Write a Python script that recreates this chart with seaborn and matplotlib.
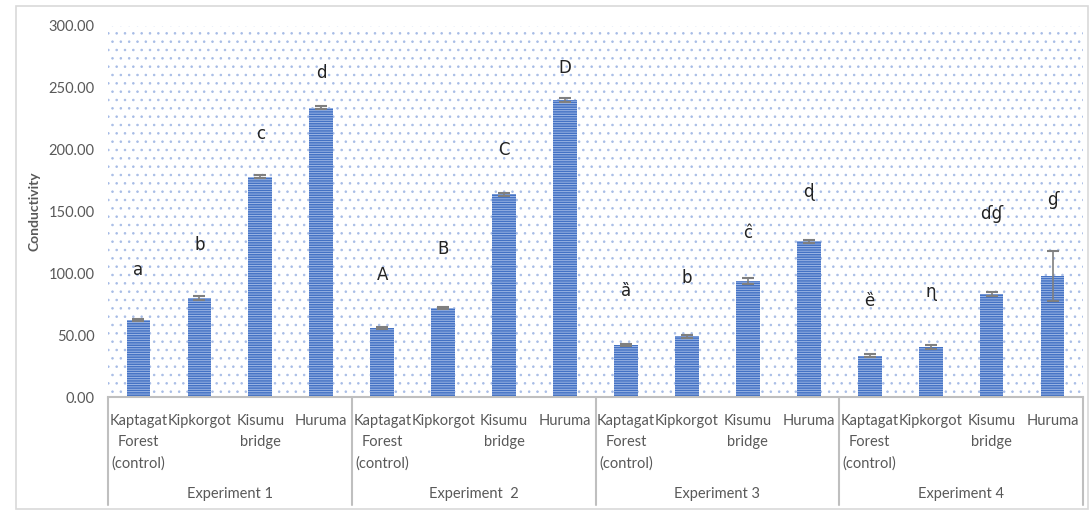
import numpy as np
import pandas as pd
import matplotlib
matplotlib.use("Agg")
import matplotlib.pyplot as plt
import matplotlib.transforms as mtransforms
from matplotlib.patches import Rectangle
import seaborn as sns

# データ
experiments = ["Experiment 1", "Experiment  2", "Experiment 3", "Experiment 4"]
sites = ["Kaptagat\nForest\n(control)", "Kipkorgot", "Kisumu\nbridge", "Huruma"]

exp1 = [62.3, 80.0, 178.0, 234.0]
exp2 = [56.0, 72.0, 164.0, 240.0]
exp3 = [42.0, 49.0, 94.0, 126.0]
exp4 = [33.5, 40.5, 83.5, 98.0]

err1 = [1.0, 1.5, 1.2, 1.5]
err2 = [1.0, 1.0, 1.2, 1.5]
err3 = [1.0, 1.0, 2.5, 1.2]
err4 = [1.5, 1.5, 1.5, 20.0]

letters1 = ["a", "b", "c", "d"]
letters2 = ["A", "B", "C", "D"]
letters3 = ["ȁ", "b", "ĉ", "ɖ"]
letters4 = ["ȅ", "ɳ", "ɗɠ", "ɠ"]

letter_y1 = [103, 123, 213, 262]
letter_y2 = [99, 120, 200, 266]
letter_y3 = [86, 96, 133, 166]
letter_y4 = [78, 85, 148, 159]

rows = []
for ei, (vals, errs, labs, ly) in enumerate(zip([exp1, exp2, exp3, exp4],
                                                 [err1, err2, err3, err4],
                                                 [letters1, letters2, letters3, letters4],
                                                 [letter_y1, letter_y2, letter_y3, letter_y4])):
    for si in range(4):
        rows.append({"key": f"{ei}-{si}", "exp": experiments[ei], "site": sites[si],
                     "value": vals[si], "err": errs[si], "letter": labs[si], "ly": ly[si]})
df = pd.DataFrame(rows)

sns.set_style("white")
plt.rcParams["font.family"] = ["Lato", "DejaVu Sans"]
plt.rcParams["hatch.linewidth"] = 0.6
grey = "#595959"

fig = plt.figure(figsize=(10.92, 5.11), dpi=100)
ax = fig.add_axes([108 / 1092, 1 - 397 / 511, 975 / 1092, 371 / 511])

# 背景の点模様
ax.patch.set_hatch("..")
ax.patch.set_edgecolor("#A7BCE6")
ax.patch.set_linewidth(0)

sns.barplot(data=df, x="key", y="value", color="#4472C4", width=0.39,
            errorbar=None, ax=ax, saturation=1)
for bar in ax.patches:
    bar.set_hatch("-------")
    bar.set_edgecolor("#A9C0EA")
    bar.set_linewidth(0)

x = np.arange(len(df))
ax.errorbar(x, df["value"], yerr=df["err"], fmt="none", ecolor="#7F7F7F",
            elinewidth=1.2, capsize=4, capthick=1.5, zorder=5)

for xi, (lab, ly) in enumerate(zip(df["letter"], df["ly"])):
    ax.text(xi, ly, lab, ha="center", va="center", fontsize=12, color="#222222",
            family=["DejaVu Sans"])

ax.set_xlim(-0.5, 15.5)
ax.set_ylim(0, 300)
ax.set_yticks(np.arange(0, 301, 50))
ax.set_yticklabels([f"{v:.2f}" for v in np.arange(0, 301, 50)], fontsize=10.5, color=grey)
ax.tick_params(axis="y", length=0, pad=9.5)
ax.set_ylabel("Conductivity", fontsize=10, fontweight="bold", color=grey, labelpad=6)
ax.set_xlabel("")

ax.set_xticks(x)
ax.set_xticklabels(df["site"], fontsize=10.5, color=grey, linespacing=1.65, va="top")
ax.tick_params(axis="x", length=0, pad=12)

for s in ["left", "right", "top"]:
    ax.spines[s].set_visible(False)
ax.spines["bottom"].set_color("#BFBFBF")
ax.spines["bottom"].set_linewidth(1.5)

trans = mtransforms.blended_transform_factory(ax.transData, ax.transAxes)
for b in [-0.5, 3.5, 7.5, 11.5, 15.5]:
    ax.plot([b, b], [0, -0.29], color="#BFBFBF", lw=1.5, transform=trans, clip_on=False)
for ei, name in enumerate(experiments):
    ax.text(ei * 4 + 1.5, -0.262, name, transform=trans, ha="center", va="center",
            fontsize=10.5, color=grey)

fig.patches.append(Rectangle((16 / 1092, 2 / 511), 1072 / 1092, 503 / 511,
                             transform=fig.transFigure, fill=False,
                             edgecolor="#D9D9D9", lw=1.2))

fig.savefig("out.png", dpi=100)
